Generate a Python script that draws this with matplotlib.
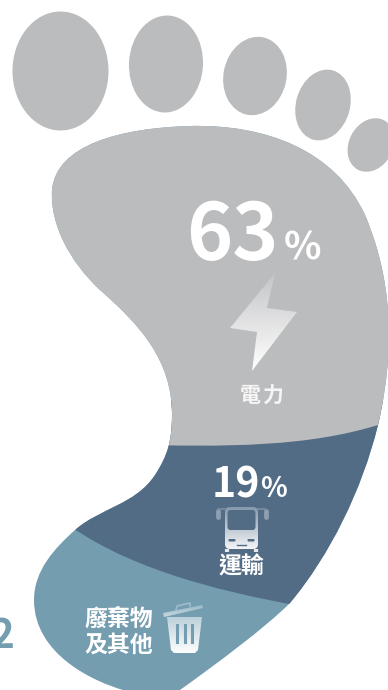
import matplotlib
matplotlib.use("Agg")
import matplotlib.pyplot as plt
import numpy as np
from matplotlib.patches import Ellipse, FancyBboxPatch, PathPatch, Polygon
from matplotlib.path import Path

plt.rcParams["font.family"] = ["Noto Sans CJK TC", "DejaVu Sans"]

# shares as printed on the foot
sector_labels = ["電力", "運輸", "廢棄物\n及其他"]
sector_values = [63, 19]
sector_colors = ["#bbbcbe", "#536c86", "#749db0"]

# toes: centre x, centre y, width, height, tilt
toes = [
    (60.5, 71, 96, 119, 0),
    (166, 64, 74, 97, 3),
    (255, 76, 63, 79, 12),
    (323, 105, 54, 72, 16),
    (371, 145, 44, 56, 28),
]

C4 = Path.CURVE4


def curve(start, *segments):
    verts = [start]
    codes = [Path.MOVETO]
    for seg in segments:
        verts += seg
        codes += [C4, C4, C4]
    return Path(verts, codes)


def gradient(ax, extent, clip, top, bottom):
    t = np.linspace(0, 1, 64)[:, None]
    c0 = np.array(matplotlib.colors.to_rgba(top))
    c1 = np.array(matplotlib.colors.to_rgba(bottom))
    img = (c0 * (1 - t) + c1 * t)[:, None, :]
    im = ax.imshow(img, extent=extent, aspect="auto", zorder=5, interpolation="bilinear")
    clip.set_transform(ax.transData)
    im.set_clip_path(clip)
    return im


fig = plt.figure(figsize=(3.88, 6.9), dpi=100)
ax = fig.add_axes([0, 0, 1, 1])

foot = curve(
    (190, 126),
    [(265, 124), (335, 150), (365, 215)],
    [(385, 262), (400, 330), (378, 425)],
    [(362, 490), (330, 555), (290, 603)],
    [(265, 628), (215, 665), (180, 690)],
    [(165, 700), (135, 697), (123, 690)],
    [(95, 682), (34, 655), (34, 600)],
    [(34, 570), (55, 548), (75, 530)],
    [(100, 508), (135, 505), (155, 475)],
    [(168, 455), (172, 440), (172, 415)],
    [(172, 360), (140, 325), (100, 290)],
    [(70, 262), (50, 225), (52, 190)],
    [(56, 145), (120, 128), (190, 126)],
)
foot_patch = PathPatch(foot, fc=sector_colors[2], ec="none", zorder=1)
ax.add_patch(foot_patch)

dark = curve(
    (62, 520),
    [(120, 565), (210, 590), (300, 606)],
    [(340, 560), (400, 470), (400, 400)],
)
dark_patch = PathPatch(
    Path(np.vstack([dark.vertices, [(60, 400), (62, 520)]]),
         list(dark.codes) + [Path.LINETO, Path.LINETO]),
    fc=sector_colors[1], ec="none", zorder=2,
)
ax.add_patch(dark_patch)
dark_patch.set_clip_path(foot_patch)

grey = curve(
    (120, 444),
    [(230, 448), (310, 446), (378, 425)],
    [(395, 420), (400, 420), (400, 410)],
)
grey_patch = PathPatch(
    Path(np.vstack([grey.vertices, [(400, 100), (20, 100), (20, 444), (120, 444)]]),
         list(grey.codes) + [Path.LINETO] * 4),
    fc=sector_colors[0], ec="none", zorder=3,
)
ax.add_patch(grey_patch)
grey_patch.set_clip_path(foot_patch)

for x, y, w, h, tilt in toes:
    ax.add_patch(Ellipse((x, y), w, h, angle=tilt, fc=sector_colors[0], ec="none", zorder=3))

# percent figures
ax.text(279, 260, str(sector_values[0]), color="white", fontsize=56.5, fontweight="bold",
        ha="right", va="baseline", zorder=6)
ax.text(321, 260, "%", color="white", fontsize=28, fontweight="bold", ha="right", va="baseline", zorder=6)
ax.text(260.5, 497, str(sector_values[1]), color="white", fontsize=29.5, fontweight="bold",
        ha="right", va="baseline", zorder=6)
ax.text(287, 497, "%", color="white", fontsize=20, fontweight="bold", ha="right", va="baseline", zorder=6)

ax.text(262, 396, "\u200a".join(sector_labels[0]), color="#f6f6f6", fontsize=15, fontweight="bold",
        ha="center", va="center", zorder=6)
ax.text(241.5, 567, sector_labels[1], color="white", fontsize=16.5, fontweight="bold",
        ha="center", va="center", zorder=6)
line1, line2 = sector_labels[2].split("\n")
ax.text(119, 619, line1, color="white", fontsize=16.5, fontweight="bold", ha="center", va="center", zorder=6)
ax.text(119, 645, line2, color="white", fontsize=16.5, fontweight="bold", ha="center", va="center", zorder=6)

# cut-off number at the left edge
ax.text(14, 648, "2", color="#749db0", fontsize=29, fontweight="bold", ha="right", va="baseline", zorder=6)

# lightning bolt icon
bolt = Polygon([(275, 273), (230, 328), (257, 332), (252, 371), (297, 312), (267, 308)], closed=True)
gradient(ax, (225, 300, 372, 272), bolt, "#c4c5c7", "#ffffff")

# bus icon
body = FancyBboxPatch((225, 507), 33, 42, boxstyle="round,pad=0,rounding_size=5")
gradient(ax, (222, 262, 550, 505), body, "#8195a9", "#f6f7f9")
ax.add_patch(FancyBboxPatch((227.5, 510), 28, 20, boxstyle="round,pad=0,rounding_size=3",
                            fc="#536c86", ec="none", zorder=6))
for x in (232, 251):
    ax.add_patch(FancyBboxPatch((x - 3.5, 539), 7, 2.5, boxstyle="round,pad=0,rounding_size=1",
                                fc="#536c86", ec="none", zorder=6))
ax.plot([237, 246], [545, 545], color="#536c86", lw=1, zorder=6)
for x in (227, 256):
    ax.plot([x, x], [552, 549], color="#e6e9ed", lw=3, zorder=5, solid_capstyle="butt")
ax.plot([217.5, 217.5], [517, 511], color="#8c9eb0", lw=3.5, zorder=5, solid_capstyle="round")
ax.plot([265.5, 265.5], [517, 511], color="#8c9eb0", lw=3.5, zorder=5, solid_capstyle="round")
ax.plot([218, 225], [508.5, 508.5], color="#75899e", lw=1.5, zorder=5)
ax.plot([258, 265], [508.5, 508.5], color="#75899e", lw=1.5, zorder=5)

# trash can icon
can = Polygon([(167, 617), (202, 617), (198, 650), (195, 653), (174, 653), (171, 650)], closed=True)
gradient(ax, (165, 205, 654, 615), can, "#b9ced8", "#ffffff")
for x in (177, 184.5, 192):
    ax.plot([x, x], [625, 642], color="#749db0", lw=2.2, zorder=6)
lid = Polygon([(163, 613), (202, 605), (203, 608), (164, 617)], closed=True)
gradient(ax, (162, 204, 618, 602), lid, "#8fb1c1", "#c9dae2")
ax.plot([176, 177, 190, 190], [610, 606, 603, 606], color="#9dbac8", lw=1.3, zorder=5)

ax.set_xlim(0, 388)
ax.set_ylim(690, 0)
ax.axis("off")
fig.savefig("out.png", dpi=100, facecolor="white")
